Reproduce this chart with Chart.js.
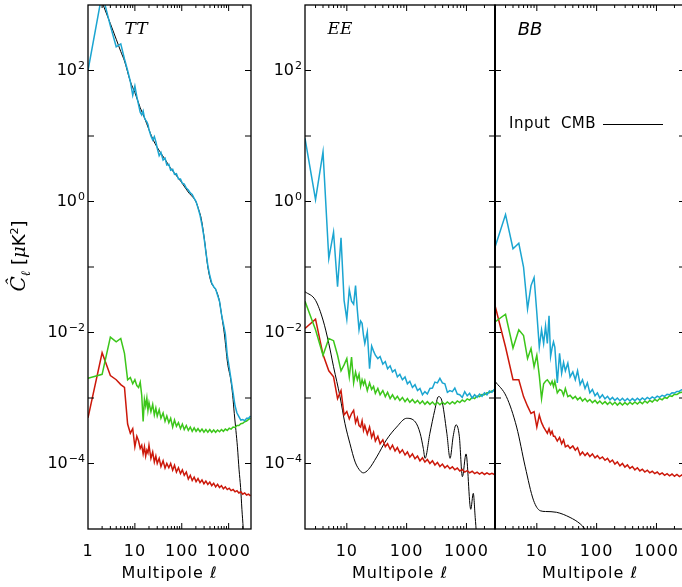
<!DOCTYPE html>
<html>
<head>
<meta charset="utf-8">
<script src="https://cdn.jsdelivr.net/npm/chart.js@4.4.0/dist/chart.umd.min.js"></script>
<style>
  html, body { margin: 0; padding: 0; background: #fff; overflow: hidden; }
  #wrap { position: relative; width: 682px; height: 587px; overflow: hidden; }
  canvas { position: absolute; left: 0; top: 0; }
</style>
</head>
<body>
<div id="wrap">
  <canvas id="tt" width="690" height="587"></canvas>
  <canvas id="ee" width="690" height="587"></canvas>
  <canvas id="bb" width="690" height="587"></canvas>
</div>
<script>
// multipoles for the TT panel (starts at l=1) and the polarisation panels (l=2)
const ellTT = [1, 2, 3, 4, 5, 6, 7, 8, 9, 10,
  11, 12, 13, 14, 15, 16, 17, 18, 19, 20,
  22, 24, 26, 28, 30, 33, 36, 40, 44, 48,
  53, 58, 64, 70, 77, 85, 94, 103, 113, 125,
  138, 152, 167, 184, 202, 222, 245, 270, 297, 327,
  360, 396, 436, 480, 528, 581, 639, 703, 773, 850,
  935, 1030, 1130, 1245, 1370, 1505, 1655, 1820, 2000, 2200,
  2420, 2660, 2930];
const ellPol = [2, 3, 4, 5, 6, 7, 8, 9, 10, 11,
  12, 13, 14, 15, 16, 17, 18, 19, 20, 22,
  24, 26, 28, 30, 33, 36, 40, 44, 48, 53,
  58, 64, 70, 77, 85, 94, 103, 113, 125, 138,
  152, 167, 184, 202, 222, 245, 270, 297, 327, 360,
  396, 436, 480, 528, 581, 639, 703, 773, 850, 935,
  1030, 1130, 1245, 1370, 1505, 1655, 1820, 2000, 2200, 2420,
  2660, 2930];

// TT
const ttCyan = [100, 1500, 480, 230, 255, 150, 100, 68, 42, 58,
  40, 30, 23, 21, 24, 19, 17.5, 16.5, 15, 12.5,
  10, 8.7, 9.8, 8.2, 6.5, 5.0, 5.6, 4.3, 4.6, 3.6,
  3.7, 3.0, 3.1, 2.6, 2.65, 2.2, 2.2, 1.9, 1.85, 1.6,
  1.5, 1.35, 1.28, 1.12, 1.0, 0.8, 0.62, 0.44, 0.29, 0.17,
  0.105, 0.074, 0.057, 0.05, 0.046, 0.037, 0.03, 0.019, 0.0135, 0.0096,
  0.0045, 0.0029, 0.0019, 0.0012, 7.6e-4, 5.9e-4, 5.2e-4, 4.6e-4, 4.7e-4, 4.5e-4,
  4.9e-4, 4.9e-4, 5.3e-4];
const ttGreen = [2.0e-3, 2.3e-3, 8.5e-3, 7.2e-3, 8.1e-3, 4.8e-3, 1.9e-3, 2.05e-3, 1.65e-3, 1.9e-3,
  1.55e-3, 1.45e-3, 1.75e-3, 1.1e-3, 4.4e-4, 9.5e-4, 7.5e-4, 1.0e-3, 6.5e-4, 8.5e-4,
  6.2e-4, 8.0e-4, 5.5e-4, 7.0e-4, 5.3e-4, 6.6e-4, 4.9e-4, 5.9e-4, 4.4e-4, 5.3e-4,
  4.2e-4, 4.9e-4, 3.6e-4, 4.6e-4, 3.7e-4, 4.2e-4, 3.4e-4, 4.0e-4, 3.3e-4, 3.8e-4,
  3.2e-4, 3.6e-4, 3.1e-4, 3.5e-4, 3.1e-4, 3.4e-4, 3.05e-4, 3.35e-4, 3.0e-4, 3.3e-4,
  3.0e-4, 3.3e-4, 3.0e-4, 3.25e-4, 3.0e-4, 3.25e-4, 3.05e-4, 3.3e-4, 3.1e-4, 3.35e-4,
  3.2e-4, 3.45e-4, 3.35e-4, 3.6e-4, 3.55e-4, 3.8e-4, 3.8e-4, 4.05e-4, 4.1e-4, 4.35e-4,
  4.45e-4, 4.7e-4, 4.9e-4];
const ttRed = [5.0e-4, 4.9e-3, 2.2e-3, 1.9e-3, 1.6e-3, 1.45e-3, 4.0e-4, 2.9e-4, 3.4e-4, 1.8e-4,
  2.6e-4, 2.2e-4, 1.7e-4, 1.9e-4, 1.4e-4, 1.8e-4, 1.3e-4, 1.6e-4, 1.45e-4, 1.9e-4,
  1.2e-4, 1.5e-4, 1.05e-4, 1.3e-4, 1.0e-4, 1.2e-4, 9.0e-5, 1.1e-4, 8.5e-5, 1.0e-4,
  8.6e-5, 1.0e-4, 7.9e-5, 9.4e-5, 7.4e-5, 8.6e-5, 7.0e-5, 8.0e-5, 6.6e-5, 7.4e-5,
  5.8e-5, 6.6e-5, 5.5e-5, 6.2e-5, 5.3e-5, 5.9e-5, 5.1e-5, 5.6e-5, 4.9e-5, 5.4e-5,
  4.8e-5, 5.2e-5, 4.6e-5, 5.0e-5, 4.4e-5, 4.8e-5, 4.3e-5, 4.6e-5, 4.1e-5, 4.4e-5,
  4.0e-5, 4.2e-5, 3.85e-5, 4.0e-5, 3.7e-5, 3.85e-5, 3.55e-5, 3.7e-5, 3.4e-5, 3.55e-5,
  3.3e-5, 3.4e-5, 3.2e-5];
const ttInputEll = [2, 3, 4, 5, 6, 8, 10, 13, 16, 20, 25, 34, 45, 55, 70, 97, 120, 146, 175, 202,
  230, 260, 305, 360, 425, 480, 540, 630, 720, 810, 950, 1110, 1220, 1320, 1430, 1540, 1670, 1800, 1920, 2050, 2150];
const ttInput = [1100, 520, 300, 195, 140, 68, 46, 27, 19, 12.5, 8.5, 5.8, 4.3, 3.4, 2.7, 2.0, 1.6, 1.32, 1.15, 0.98,
  0.75, 0.55, 0.26, 0.1, 0.058, 0.05, 0.044, 0.031, 0.017, 0.0096, 0.0034, 0.0019, 1.1e-3, 5.8e-4, 3.2e-4, 1.8e-4, 8e-5, 4.3e-5, 2e-5, 1e-5, 5e-6];

// EE
const eeCyan = [9.2, 1.07, 5.7, 0.135, 0.34, 0.05, 0.28, 0.031, 0.016, 0.045,
  0.03, 0.027, 0.052, 0.022, 0.011, 0.015, 0.0138, 0.009, 0.0068, 0.0102,
  0.0028, 0.0062, 0.0052, 0.0045, 0.0040, 0.0043, 0.0033, 0.0036, 0.0028, 0.0031,
  0.0025, 0.0027, 0.0021, 0.0023, 0.0019, 0.0021, 0.00165, 0.0018, 0.00145, 0.0016,
  0.0013, 0.0014, 0.00112, 0.00125, 0.00115, 0.0014, 0.00142, 0.00175, 0.0017, 0.002,
  0.0017, 0.00165, 0.00122, 0.0013, 0.00125, 0.00142, 0.00115, 0.00112, 0.00102, 0.00125,
  0.00108, 0.00118, 0.001, 0.00112, 0.00102, 0.00115, 0.00106, 0.0012, 0.00112, 0.00128,
  0.00122, 0.00136];
const eeGreen = [0.03, 0.011, 0.0045, 0.0081, 0.0075, 0.0045, 0.0026, 0.0032, 0.004, 0.0021,
  0.0042, 0.0017, 0.0025, 0.0019, 0.0023, 0.0015, 0.0019, 0.0016, 0.00185, 0.0013,
  0.0017, 0.00135, 0.0015, 0.00118, 0.0014, 0.00112, 0.0013, 0.00105, 0.00122, 0.00098,
  0.00112, 0.00095, 0.00106, 0.00092, 0.00102, 0.00088, 0.00098, 0.00086, 0.00095, 0.00084,
  0.00092, 0.00082, 0.0009, 0.0008, 0.00088, 0.0008, 0.00087, 0.00079, 0.00086, 0.00079,
  0.00086, 0.0008, 0.00087, 0.00081, 0.00088, 0.00082, 0.0009, 0.00085, 0.00093, 0.00088,
  0.00097, 0.00093, 0.00102, 0.00098, 0.00107, 0.00105, 0.00113, 0.00112, 0.0012, 0.0012,
  0.00128, 0.0013];
const eeRed = [0.0115, 0.016, 0.0046, 0.0026, 0.0021, 0.00098, 0.0013, 0.00055, 0.00062, 0.00048,
  0.00058, 0.00065, 0.00042, 0.0005, 0.00038, 0.00036, 0.00045, 0.00032, 0.00038, 0.00028,
  0.00036, 0.00025, 0.0003, 0.00022, 0.00026, 0.0002, 0.00023, 0.00018, 0.0002, 0.000165,
  0.00019, 0.000155, 0.000175, 0.000145, 0.000162, 0.000135, 0.00015, 0.000125, 0.00014, 0.000118,
  0.00013, 0.00011, 0.000122, 0.000105, 0.000115, 0.0001, 0.00011, 9.5e-5, 0.000104, 9.0e-5,
  9.8e-5, 8.6e-5, 9.3e-5, 8.3e-5, 8.9e-5, 8.0e-5, 8.5e-5, 7.7e-5, 8.1e-5, 7.4e-5,
  7.8e-5, 7.2e-5, 7.6e-5, 7.0e-5, 7.4e-5, 6.9e-5, 7.3e-5, 6.8e-5, 7.2e-5, 6.8e-5,
  7.1e-5, 6.8e-5];
const eeInputEll = [2, 3, 4, 5, 6, 7.7, 9.3, 11.3, 13.8, 16.8, 18.9, 23, 31.6, 46, 68, 100, 140, 168, 190, 203,
  245, 295, 340, 385, 470, 532, 600, 670, 760, 855, 984, 1180, 1300, 1400, 1470, 1520];
const eeInput = [0.042, 0.031, 0.0155, 0.0068, 0.003, 1.05e-3, 4.1e-4, 2e-4, 1.05e-4, 7.7e-5, 7.2e-5, 8.1e-5, 1.26e-4, 2.3e-4, 3.6e-4, 4.9e-4, 4.3e-4, 2.9e-4, 1.7e-4, 1.2e-4,
  2.9e-4, 6.5e-4, 1.05e-3, 9.3e-4, 2.9e-4, 1.2e-4, 2.6e-4, 3.9e-4, 2.6e-4, 6.3e-5, 1.4e-4, 2e-5, 3.5e-5, 1.5e-5, 8e-6, 4e-6];

// BB
const bbCyan = [0.2, 0.63, 0.19, 0.23, 0.1, 0.023, 0.052, 0.069, 0.02, 0.006,
  0.011, 0.0068, 0.0125, 0.0068, 0.018, 0.0043, 0.0058, 0.0072, 0.006, 0.0017,
  0.0048, 0.0024, 0.0035, 0.0026, 0.0034, 0.0021, 0.0025, 0.0019, 0.0026, 0.0016,
  0.0019, 0.0014, 0.0017, 0.0012, 0.00135, 0.00108, 0.0012, 0.001, 0.00112, 0.00097,
  0.00106, 0.00094, 0.00102, 0.00092, 0.001, 0.00091, 0.00099, 0.0009, 0.00098, 0.0009,
  0.00098, 0.00091, 0.00099, 0.00092, 0.001, 0.00094, 0.00102, 0.00096, 0.00104, 0.00099,
  0.00107, 0.00102, 0.0011, 0.00106, 0.00114, 0.00112, 0.0012, 0.00119, 0.00126, 0.00127,
  0.00134, 0.00136];
const bbGreen = [0.0145, 0.019, 0.0058, 0.011, 0.009, 0.004, 0.0057, 0.003, 0.0045, 0.0022,
  0.00098, 0.00165, 0.0018, 0.0019, 0.00175, 0.0016, 0.0018, 0.0015, 0.0018, 0.0012,
  0.00135, 0.0013, 0.0011, 0.0014, 0.00105, 0.0011, 0.00098, 0.00106, 0.00094, 0.00102,
  0.0009, 0.00098, 0.00088, 0.00095, 0.00085, 0.00092, 0.00083, 0.0009, 0.00081, 0.00088,
  0.0008, 0.00087, 0.00079, 0.00086, 0.00078, 0.00085, 0.00078, 0.00085, 0.00079, 0.00086,
  0.0008, 0.00087, 0.00081, 0.00088, 0.00082, 0.0009, 0.00084, 0.00092, 0.00087, 0.00095,
  0.0009, 0.00098, 0.00094, 0.00102, 0.00099, 0.00108, 0.00106, 0.00114, 0.00113, 0.0012,
  0.00122, 0.00128];
const bbRed = [0.026, 0.006, 0.0019, 0.0019, 0.00105, 0.00075, 0.00058, 0.00062, 0.00036, 0.00055,
  0.00042, 0.00036, 0.00032, 0.00029, 0.00034, 0.00028, 0.00031, 0.00026, 0.00026, 0.00022,
  0.00025, 0.0002, 0.00023, 0.00018, 0.00019, 0.00017, 0.000185, 0.00016, 0.000175, 0.000135,
  0.00015, 0.000132, 0.000145, 0.000128, 0.00014, 0.000122, 0.000132, 0.000118, 0.000126, 0.000112,
  0.00012, 0.000105, 0.000113, 9.8e-5, 0.000106, 9.2e-5, 0.0001, 8.8e-5, 9.5e-5, 8.4e-5,
  9.0e-5, 8.0e-5, 8.6e-5, 7.7e-5, 8.2e-5, 7.4e-5, 7.9e-5, 7.2e-5, 7.6e-5, 7.0e-5,
  7.4e-5, 6.8e-5, 7.2e-5, 6.6e-5, 7.0e-5, 6.5e-5, 6.9e-5, 6.4e-5, 6.8e-5, 6.3e-5,
  6.7e-5, 6.3e-5];
const bbInputEll = [2, 3.1, 4.6, 6.4, 8.8, 11.4, 14, 21.3, 36, 53, 64, 75];
const bbInput = [1.8e-3, 1.05e-3, 3.6e-4, 8.9e-5, 2.75e-5, 1.9e-5, 1.85e-5, 1.8e-5, 1.5e-5, 1.2e-5, 1e-5, 8e-6];

const xTicksTT = [1, 10, 100, 1000];
const xTicksPol = [10, 100, 1000];
const yLabelPowers = [2, 0, -2, -4];

const CYAN = '#1ba5d1', GREEN = '#3cc61a', RED = '#cc180a', BLACK = '#000';
const TICK_FONT = '16px "DejaVu Sans"';
const SUP_FONT = '11px "DejaVu Sans"';

function pts(xs, ys) {
  return xs.map((x, i) => ({ x: x, y: ys[i] }));
}

function drawPow(ctx, p, xr, ym) {
  const sup = p < 0 ? '\u2212' + (-p) : String(p);
  ctx.font = TICK_FONT;
  const wb = ctx.measureText('10').width;
  ctx.font = SUP_FONT;
  const ws = ctx.measureText(sup).width;
  const x0 = xr - wb - ws - 1;
  ctx.textAlign = 'left';
  ctx.textBaseline = 'middle';
  ctx.font = TICK_FONT;
  ctx.fillText('10', x0, ym);
  ctx.font = SUP_FONT;
  ctx.fillText(sup, x0 + wb + 1, ym - 4);
}

function drawYTitle(ctx) {
  const parts = [
    ['\u0108', 'italic 20px "DejaVu Serif"', 0],
    ['\u2113', 'italic 13px "DejaVu Serif"', 5],
    [' [', '18px "DejaVu Sans"', 0],
    ['\u03bc', 'italic 18px "DejaVu Serif"', 0],
    ['K', '18px "DejaVu Sans"', 0],
    ['2', '11px "DejaVu Sans"', -7],
    [']', '18px "DejaVu Sans"', 0]
  ];
  ctx.save();
  ctx.translate(18, 256);
  ctx.rotate(-Math.PI / 2);
  ctx.textAlign = 'left';
  ctx.textBaseline = 'alphabetic';
  let total = 0;
  parts.forEach(p => { ctx.font = p[1]; total += ctx.measureText(p[0]).width; });
  let x = -total / 2;
  parts.forEach(p => {
    ctx.font = p[1];
    ctx.fillText(p[0], x, 7 + p[2]);
    x += ctx.measureText(p[0]).width;
  });
  ctx.restore();
}

const decoPlugin = {
  id: 'deco',
  afterDatasetsDraw(chart, args, o) {
    const { ctx, chartArea: a } = chart;
    const xs = chart.scales.x, ys = chart.scales.y;
    ctx.save();
    ctx.strokeStyle = '#000';
    ctx.fillStyle = '#000';
    ctx.lineWidth = 1.3;
    ctx.strokeRect(a.left, a.top, a.right - a.left, a.bottom - a.top);
    if (o.leftWidth) {
      ctx.lineWidth = o.leftWidth;
      ctx.beginPath();
      ctx.moveTo(a.left, a.top);
      ctx.lineTo(a.left, a.bottom);
      ctx.stroke();
    }
    ctx.lineWidth = 1;
    ctx.beginPath();
    for (let d = 1; d < 10000; d *= 10) {
      for (let m = 1; m < 10; m++) {
        const v = m * d;
        if (v <= xs.min || v >= xs.max) continue;
        const px = xs.getPixelForValue(v);
        const len = m === 1 ? 6 : 3;
        ctx.moveTo(px, a.bottom); ctx.lineTo(px, a.bottom - len);
        ctx.moveTo(px, a.top); ctx.lineTo(px, a.top + len);
      }
    }
    for (let e = -4; e <= 2; e++) {
      const py = ys.getPixelForValue(Math.pow(10, e));
      ctx.moveTo(a.left, py); ctx.lineTo(a.left + 6, py);
      ctx.moveTo(a.right, py); ctx.lineTo(a.right - 6, py);
    }
    ctx.stroke();

    ctx.font = TICK_FONT;
    ctx.textAlign = 'center';
    ctx.textBaseline = 'middle';
    ctx.letterSpacing = '1px';
    o.xLabels.forEach(v => ctx.fillText(String(v), xs.getPixelForValue(v), 552));
    ctx.fillText('Multipole \u2113', (a.left + a.right) / 2, 574);
    ctx.letterSpacing = '0px';
    (o.yLabels || []).forEach(p => drawPow(ctx, p, a.left - 3, ys.getPixelForValue(Math.pow(10, p))));

    ctx.textAlign = 'center';
    ctx.textBaseline = 'middle';
    ctx.font = o.titleFont;
    ctx.fillText(o.title, o.titleX, 30);

    if (o.legend) {
      ctx.font = '15px "DejaVu Sans"';
      ctx.textAlign = 'left';
      ctx.letterSpacing = '0.5px';
      ctx.fillText('Input  CMB', 509, 124);
      ctx.letterSpacing = '0px';
      ctx.lineWidth = 1;
      ctx.beginPath();
      ctx.moveTo(603, 124.5);
      ctx.lineTo(663, 124.5);
      ctx.stroke();
    }
    if (o.yTitle) drawYTitle(ctx);
    ctx.restore();
  }
};

function makePanel(id, ell, cyan, green, red, inEll, input, xmin, pad, deco) {
  const line = (data, color, w) => ({
    data: data, borderColor: color, borderWidth: w, pointRadius: 0, fill: false, tension: 0
  });
  const black = line(pts(inEll, input), BLACK, 1);
  black.cubicInterpolationMode = 'monotone';
  return new Chart(document.getElementById(id), {
    type: 'line',
    data: {
      datasets: [
        line(pts(ell, cyan), CYAN, 1.5),
        line(pts(ell, green), GREEN, 1.5),
        line(pts(ell, red), RED, 1.5),
        black
      ]
    },
    options: {
      responsive: false,
      animation: false,
      events: [],
      layout: { padding: pad },
      scales: {
        x: { type: 'logarithmic', min: xmin, max: 3000, display: false },
        y: { type: 'logarithmic', min: 1e-5, max: 1e3, display: false }
      },
      plugins: { legend: { display: false }, tooltip: { enabled: false }, deco: deco }
    },
    plugins: [decoPlugin]
  });
}

makePanel('tt', ellTT, ttCyan, ttGreen, ttRed, ttInputEll, ttInput, 1,
  { left: 88, right: 439, top: 5, bottom: 58 },
  { xLabels: xTicksTT, yLabels: yLabelPowers, title: 'TT', titleX: 136,
    titleFont: 'italic 17px "DejaVu Serif"', yTitle: true });
makePanel('ee', ellPol, eeCyan, eeGreen, eeRed, eeInputEll, eeInput, 2,
  { left: 305, right: 195, top: 5, bottom: 58 },
  { xLabels: xTicksPol, yLabels: yLabelPowers, title: 'EE', titleX: 340,
    titleFont: 'italic 17px "DejaVu Serif"' });
makePanel('bb', ellPol, bbCyan, bbGreen, bbRed, bbInputEll, bbInput, 2,
  { left: 495, right: 5, top: 5, bottom: 58 },
  { xLabels: xTicksPol, title: 'BB', titleX: 530,
    titleFont: 'italic 18px "DejaVu Sans"', legend: true, leftWidth: 2 });
</script>
</body>
</html>
